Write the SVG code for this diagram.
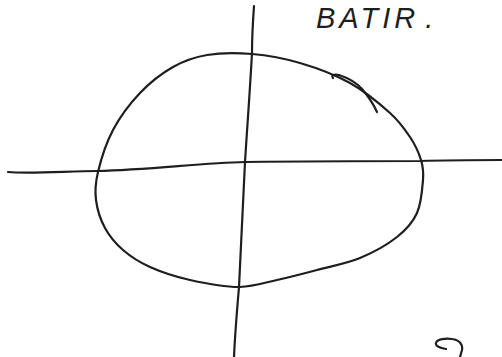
<svg xmlns="http://www.w3.org/2000/svg" width="502" height="357" viewBox="0 0 502 357">
<style>
.s{fill:none;stroke:#1e1e1e;stroke-width:2.2;stroke-linecap:round;stroke-linejoin:round}
.t{font-family:"Liberation Sans",Arial,sans-serif;font-size:29px;font-style:italic;fill:#1e1e1e;letter-spacing:4px}
</style>
<rect width="502" height="357" fill="#ffffff"/>
<g id="curve">
<path class="s" d="M252,54 C267.5,55.3 283.7,58.2 300,63 C316.3,67.8 335,74.7 350,83 C365,91.3 380,104 390,113 C400,122 404.8,129.2 410,137 C415.2,144.8 418.8,152.8 421,160 C423.2,167.2 423.7,171.2 423,180 C422.3,188.8 421.3,203.5 417,213 C412.7,222.5 406.5,229.5 397,237 C387.5,244.5 373.3,252.5 360,258 C346.7,263.5 330.8,266.3 317,270 C303.2,273.7 289.8,277.2 277,280 C264.2,282.8 252.5,286.5 240,287 C225.5,287.3 205,283.3 190,280 C175,276.7 161.2,272 150,267 C138.8,262 130.5,256.5 123,250 C115.5,243.5 109.5,236.3 105,228 C100.5,219.7 97.2,209.3 96,200 C94.8,190.7 95.2,183.7 98,172 C100.8,160.3 106,143.2 113,130 C120,116.8 130,103.5 140,93 C150,82.5 161.8,73.3 173,67 C184.2,60.7 193.8,57.2 207,55 C220.2,52.8 236.5,52.7 252,54 Z"/>
<path class="s" d="M333,78 C331,75 334,74 339,75 C348,78 356,82 362,89 C368,96 373,103 377,112"/>
</g>
<g id="axes">
<path class="s" d="M8,172 C30,174 70,171 97,171 C150,170 200,163 245,162 C320,161 380,161 420,161 C450,160 480,160 502,160"/>
<path class="s" d="M254,6 C253,20 252,40 252,53 C250,90 247,130 245,162 C243,210 241,250 239,287 C237,310 235,335 234,357"/>
</g>
<g id="label">
<text class="t" x="316" y="28">BATIR<tspan dx="6">.</tspan></text>
</g>
<g id="mark">
<path class="s" d="M446,349 C440,348 435,346 436,343 C437,339 446,338 452,339 C460,340 463,345 462,350 L460,357"/>
</g>
</svg>
